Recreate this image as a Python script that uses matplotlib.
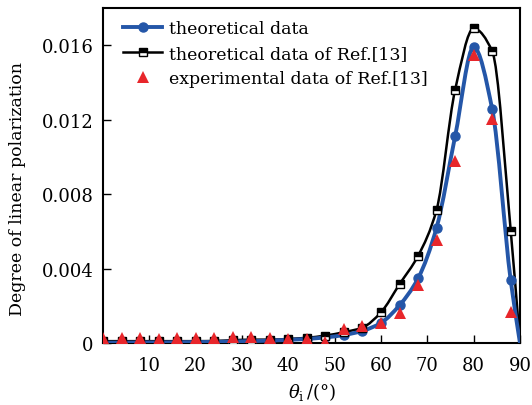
import numpy as np
import matplotlib
matplotlib.use("Agg")
import matplotlib.pyplot as plt
from matplotlib.path import Path
from matplotlib.patches import PathPatch
from matplotlib.lines import Line2D

plt.rcParams['font.family'] = ['DejaVu Serif']
plt.rcParams['mathtext.fontset'] = 'dejavuserif'

# Incidence angle (deg) of every sampled point
angles = [0, 4, 8, 12, 16, 20, 24, 28, 32, 36, 40, 44,
          48, 52, 56, 60, 64, 68, 72, 76, 80, 84, 88]

# Theoretical degree of linear polarization
dolp_theory = [0.00002, 0.00002, 0.00003, 0.00003, 0.00004, 0.00005,
               0.00006, 0.00008, 0.00010, 0.00013, 0.00017, 0.00022,
               0.00030, 0.00043, 0.00065, 0.00108, 0.00203, 0.00347,
               0.00620, 0.01111, 0.01590, 0.01257, 0.00336]

# Theoretical curve of Ref.[13]
dolp_ref_theory = [0.00010, 0.00010, 0.00010, 0.00010, 0.00010, 0.00010,
                   0.00011, 0.00015, 0.00018, 0.00018, 0.00022, 0.00028,
                   0.00040, 0.00058, 0.00083, 0.00165, 0.00316, 0.00468,
                   0.00716, 0.01360, 0.01690, 0.01568, 0.00604]

# Measured values of Ref.[13]
dolp_ref_exp = [0.00025, 0.00025, 0.00025, 0.00022, 0.00025, 0.00025,
                0.00025, 0.00030, 0.00030, 0.00027, 0.00020, 0.00020,
                0.00005, 0.00075, 0.00090, 0.00105, 0.00160, 0.00310,
                0.00555, 0.00980, 0.01550, 0.01205, 0.00167]

# Both theory curves vanish at grazing incidence
end_angle = 90
end_value = 0.0

x_ticks = [10, 20, 30, 40, 50, 60, 70, 80, 90]
y_ticks = [0, 0.004, 0.008, 0.012, 0.016]
y_tick_labels = ['0', '0.004', '0.008', '0.012', '0.016']

BLUE = '#2456a8'
RED = '#e8262b'


def smooth_path(xs, ys):
    """Shape-preserving (PCHIP) cubic through the points, as Bezier segments."""
    x = np.asarray(xs, float)
    y = np.asarray(ys, float)
    h = np.diff(x)
    d = np.diff(y) / h
    m = np.zeros_like(y)
    m[0], m[-1] = d[0], d[-1]
    for k in range(1, len(x) - 1):
        if d[k - 1] * d[k] > 0:
            w1 = 2 * h[k] + h[k - 1]
            w2 = h[k] + 2 * h[k - 1]
            m[k] = (w1 + w2) / (w1 / d[k - 1] + w2 / d[k])
    verts = [(x[0], y[0])]
    codes = [Path.MOVETO]
    for k in range(len(x) - 1):
        verts += [(x[k] + h[k] / 3, y[k] + m[k] * h[k] / 3),
                  (x[k + 1] - h[k] / 3, y[k + 1] - m[k + 1] * h[k] / 3),
                  (x[k + 1], y[k + 1])]
        codes += [Path.CURVE4] * 3
    return Path(verts, codes)


fig = plt.figure(figsize=(5.32, 4.06), dpi=100)
ax = fig.add_axes([0.1936, 0.1527, 0.7838, 0.8251])

line_x = angles + [end_angle]

ax.add_patch(PathPatch(smooth_path(line_x, dolp_ref_theory + [end_value]),
                       fill=False, edgecolor='black', lw=1.8, zorder=2))
ax.add_patch(PathPatch(smooth_path(line_x, dolp_theory + [end_value]),
                       fill=False, edgecolor=BLUE, lw=2.8, zorder=3))

ax.plot(angles, dolp_theory, linestyle='none', marker='o', ms=6.5,
        color=BLUE, zorder=4)
ax.plot(angles, dolp_ref_theory, linestyle='none', marker='s', ms=6,
        markerfacecolor='black', markerfacecoloralt='white',
        fillstyle='top', markeredgecolor='black', markeredgewidth=1.0,
        zorder=5)
ax.plot(angles, dolp_ref_exp, linestyle='none', marker='^', ms=8,
        color=RED, markeredgewidth=0, zorder=6)

ax.set_xlim(0, 90)
ax.set_ylim(0, 0.018)
ax.set_xticks(x_ticks)
ax.set_yticks(y_ticks)
ax.set_yticklabels(y_tick_labels)
ax.tick_params(direction='in', length=6, width=1.0, labelsize=13,
               top=False, right=False)
ax.tick_params(axis='y', pad=7)
ax.tick_params(axis='x', pad=9)
for s in ax.spines.values():
    s.set_linewidth(1.5)

ax.set_ylabel('Degree of linear polarization', fontsize=12.5)
ax.yaxis.set_label_coords(-0.185, 0.463)
ax.set_xlabel(r'$\theta_{\rm i}\,$/(°)', fontsize=13, labelpad=5)

handles = [
    Line2D([], [], color=BLUE, lw=2.8, marker='o', ms=6.5),
    Line2D([], [], color='black', lw=1.8, marker='s', ms=6,
           markerfacecolor='black', markerfacecoloralt='white',
           fillstyle='top', markeredgecolor='black'),
    Line2D([], [], linestyle='none', marker='^', ms=8, color=RED,
           markeredgewidth=0),
]
labels = ['theoretical data', 'theoretical data of Ref.[13]',
          'experimental data of Ref.[13]']
ax.legend(handles, labels, loc='upper left', frameon=False, fontsize=12.5,
          handlelength=2.2, handletextpad=0.4, labelspacing=0.45,
          borderaxespad=0.3, bbox_to_anchor=(0.02, 1.0))

fig.savefig('out.png', dpi=100)
